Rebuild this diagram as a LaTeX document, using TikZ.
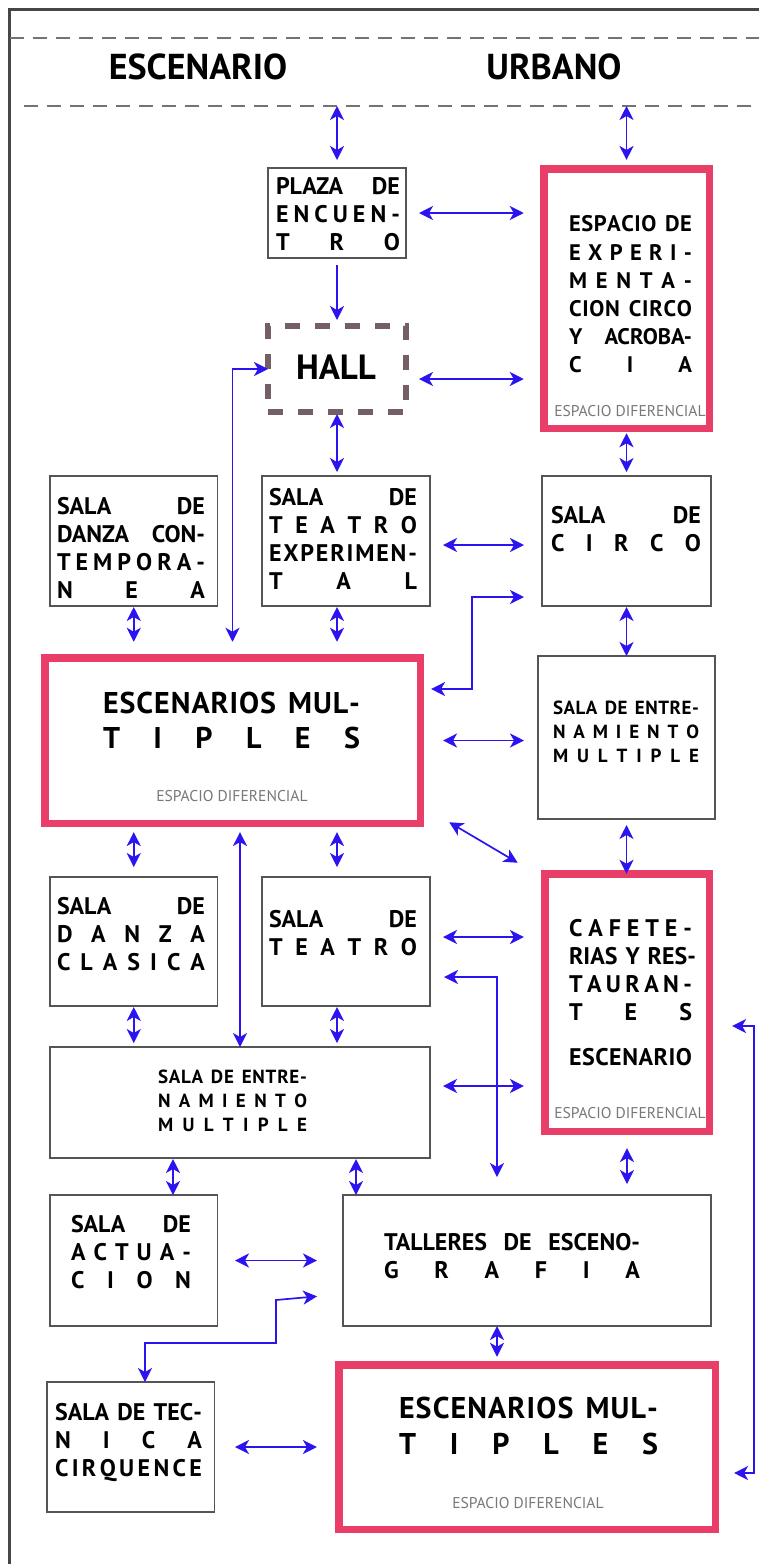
\documentclass[tikz,border=0pt]{standalone}
\usepackage{fontspec}
\setmainfont{PT Sans}
\usetikzlibrary{arrows.meta,calc}

\definecolor{diffred}{RGB}{232,62,104}
\definecolor{linkblue}{RGB}{43,20,240}
\definecolor{hallgray}{RGB}{115,95,100}
\definecolor{roomgray}{RGB}{85,85,85}
\definecolor{bandgray}{RGB}{115,115,115}
\definecolor{framegray}{RGB}{70,70,70}
\definecolor{diffgray}{RGB}{120,120,120}

\newcommand\roomfont{\bfseries\fontsize{12}{14}\selectfont}
\newcommand\trainfont{\bfseries\fontsize{9.5}{12}\selectfont}
\newcommand\bigfont{\bfseries\fontsize{15}{17.75}\selectfont}
\newcommand\difffont{\fontsize{7.8}{9}\selectfont}
\newcommand\headfont{\bfseries\fontsize{18}{20}\selectfont}

% justified lines: \jl stretches the spaces, \sj spreads every letter
\makeatletter
\newcommand\jl[1]{\makebox[\linewidth][s]{\spaceskip=.25em plus 1fil\relax #1}}
\def\sj@end{\sj@end}
\def\sj@loop#1{\ifx#1\sj@end\else\hfil#1\expandafter\sj@loop\fi}
\def\sj@go#1{#1\sj@loop}
\newcommand\sj[1]{\makebox[\linewidth][s]{\sj@go#1\sj@end}}
\makeatother

\begin{document}
\begin{tikzpicture}[x=0.5pt, y=-0.5pt,
    >={Stealth[length=7pt,width=7pt,inset=2pt]},
    room/.style={draw=roomgray, line width=0.75pt, fill=white},
    diff/.style={draw=diffred, line width=3.75pt, fill=white},
    hallbox/.style={draw=hallgray, line width=3.3pt, dash pattern=on 7.5pt off 7.5pt},
    link/.style={draw=linkblue, line width=0.85pt, <->},
    band/.style={draw=bandgray, line width=0.8pt, dash pattern=on 7pt off 4.5pt},
    roomtxt/.style={text width=#1, font=\roomfont},
    traintxt/.style={text width=#1, font=\trainfont},
    bigtxt/.style={text width=#1, font=\bigfont},
    difftxt/.style={font=\difffont, text=diffgray}]
  \tikzstyle{every node}+=[inner sep=0pt, outer sep=0pt]
  \useasboundingbox (0,0) rectangle (759,1564);
  \fill[white] (0,0) rectangle (759,1564);

  % frame and header band
  \draw[framegray, line width=1.5pt] (9.5,1564) -- (9.5,9.5) -- (759,9.5);
  \draw[band] (10,38) -- (759,38);
  \draw[band] (24,106) -- (759,106);
  \node[font=\headfont] (escenario) at (198,66.5) {ESCENARIO};
  \node[font=\headfont] (urbano) at (554,66.5) {URBANO};
  \coordinate (bandL) at (337,106);
  \coordinate (bandR) at (626.5,106);

  % boxes
  \node[room, minimum width=69pt, minimum height=45pt] (plaza) at (337,213) {};
  \node[diff, minimum width=82.75pt, minimum height=129.75pt] (espacio) at (626.5,298.5) {};
  \node[hallbox, minimum width=69pt, minimum height=43pt] (hall) at (337,369) {};
  \node[room, minimum width=83.75pt, minimum height=65pt] (dancont) at (133.75,541) {};
  \node[room, minimum width=84pt, minimum height=65pt] (teaexp) at (346,541) {};
  \node[room, minimum width=84.5pt, minimum height=65pt] (circo) at (626.5,541) {};
  \node[diff, minimum width=187.75pt, minimum height=82.75pt] (esc1) at (232.5,740.5) {};
  \node[room, minimum width=88.5pt, minimum height=81.5pt] (entR) at (626.5,737.5) {};
  \node[room, minimum width=83.75pt, minimum height=64.5pt] (danclas) at (133.75,941.5) {};
  \node[room, minimum width=84pt, minimum height=64.5pt] (teatro) at (346,941.5) {};
  \node[diff, minimum width=82.25pt, minimum height=128.75pt] (cafe) at (627,1002.5) {};
  \node[room, minimum width=190pt, minimum height=55.5pt] (entL) at (240,1102.5) {};
  \node[room, minimum width=83.75pt, minimum height=65.5pt] (actua) at (133.75,1260.5) {};
  \node[room, minimum width=184pt, minimum height=65.5pt] (talleres) at (527,1260.5) {};
  \node[room, minimum width=83.75pt, minimum height=65pt] (tecnica) at (130.75,1447) {};
  \node[diff, minimum width=188.25pt, minimum height=82.25pt] (esc2) at (527,1447) {};

  % texts
  \node[roomtxt=62pt] (plazatxt) at (338,214.5) {\jl{PLAZA DE}\\ \sj{ENCUEN-}\\ \sj{TRO}};
  \node[roomtxt=61.5pt, font=\bfseries\fontsize{11.25}{14.1}\selectfont] (espaciotxt) at (630.5,294.5)
    {\sj{ESPACIO{~}DE}\\ \sj{EXPERI-}\\ \sj{MENTA-}\\ \sj{CION{~}CIRCO}\\ \jl{Y ACROBA-}\\ \sj{CIA}};
  \node[difftxt] (espaciodiff) at (630,411) {ESPACIO DIFERENCIAL};
  \node[font=\bfseries\fontsize{17.5}{20}\selectfont] (halltxt) at (336,367.5) {HALL};
  \node[roomtxt=74pt] (dancontxt) at (131,547.5) {\jl{SALA DE}\\ \jl{DANZA CON-}\\ \sj{TEMPORA-}\\ \sj{NEA}};
  \node[roomtxt=74pt] (teaexptxt) at (343,538.5) {\jl{SALA DE}\\ \sj{TEATRO}\\ \sj{EXPERIMEN-}\\ \sj{TAL}};
  \node[roomtxt=75pt] (circotxt) at (626,529.5) {\jl{SALA DE}\\ \sj{CIRCO}};
  \node[bigtxt=128.5pt] (esc1txt) at (231.5,720.5) {\sj{ESCENARIOS{~}MUL-}\\ \sj{TIPLES}};
  \node[difftxt] (esc1diff) at (232,796) {ESPACIO DIFERENCIAL};
  \node[traintxt=73pt] (entRtxt) at (626,732) {\sj{SALA{~}DE{~}ENTRE-}\\ \sj{NAMIENTO}\\ \sj{MULTIPLE}};
  \node[roomtxt=74pt] (danclastxt) at (131,934.5) {\jl{SALA DE}\\ \sj{DANZA}\\ \sj{CLASICA}};
  \node[roomtxt=74pt] (teatrotxt) at (343,933) {\jl{SALA DE}\\ \sj{TEATRO}};
  \node[roomtxt=61.5pt] (cafetxt) at (630.5,992.5)
    {\sj{CAFETE-}\\ \sj{RIAS{~}Y{~}RES-}\\ \sj{TAURAN-}\\ \sj{TES}\\[8.5pt] {\fontsize{12}{14}\selectfont\sj{ESCENARIO}}};
  \node[difftxt] (cafediff) at (630,1113) {ESPACIO DIFERENCIAL};
  \node[traintxt=74.5pt] (entLtxt) at (232.5,1101) {\sj{SALA{~}DE{~}ENTRE-}\\ \sj{NAMIENTO}\\ \sj{MULTIPLE}};
  \node[roomtxt=60pt] (actuatxt) at (131,1252.5) {\jl{SALA DE}\\ \sj{ACTUA-}\\ \sj{CION}};
  \node[roomtxt=128pt] (tallerestxt) at (512,1256.5) {\jl{TALLERES DE ESCENO-}\\ \sj{GRAFIA}};
  \node[roomtxt=73.5pt] (tecnicatxt) at (128.5,1442.5) {\sj{SALA{~}DE{~}TEC-}\\ \sj{NICA}\\ \sj{CIRQUENCE}};
  \node[bigtxt=129.5pt] (esc2txt) at (528.5,1426) {\sj{ESCENARIOS{~}MUL-}\\ \sj{TIPLES}};
  \node[difftxt] (esc2diff) at (528,1503) {ESPACIO DIFERENCIAL};

  % connectors
  \draw[link, shorten >=4pt] (bandL) -- (bandL |- plaza.north);
  \draw[link, shorten >=4.4pt] (bandR) -- (bandR |- espacio.north);
  \draw[link, shorten <=6.5pt, shorten >=10pt] (plaza.east) -- (plaza.east -| espacio.west);
  \draw[link, ->, shorten <=3.5pt, shorten >=3pt] (plaza.south) -- (hall.north);
  \draw[link, shorten <=6.5pt, shorten >=10pt] ($(hall.east)+(0,10)$) -- ($(hall.east -| espacio.west)+(0,10)$);
  \draw[link, shorten <=1pt, shorten >=2pt] (hall.south) -- (hall.south |- teaexp.north);
  \draw[link, shorten <=2.5pt, shorten >=2pt] (espacio.south) -- (espacio.south |- circo.north);
  \draw[link, shorten >=8pt] (hall.west) -| (esc1.north);
  \draw[link, shorten <=0.5pt, shorten >=8pt] (dancont.south) -- (dancont.south |- esc1.north);
  \draw[link, shorten <=0.5pt, shorten >=8pt] (hall.south |- teaexp.south) -- (hall.south |- esc1.north);
  \draw[link, shorten <=6.5pt, shorten >=9pt] ($(teaexp.east)+(0,4)$) -- ($(teaexp.east -| circo.west)+(0,4)$);
  \draw[link, shorten <=5.4pt, shorten >=9pt] ($(esc1.east)+(0,-51.5)$) -- ++(51.75,0) |- ($(circo.west)+(0,56)$);
  \draw[link, shorten <=0.5pt] (circo.south) -- (entR.north);
  \draw[link, shorten <=11.4pt, shorten >=7pt] (esc1.east) -- (esc1.east -| entR.west);
  \draw[link] ($(esc1.south east)+(29,-1)$) -- ($(cafe.north west)+(-27,-11)$);
  \draw[link, shorten <=3pt] (entR.south) -- (entR.south |- cafe.north);
  \draw[link, shorten <=4.4pt, shorten >=5pt] (dancont.south |- esc1.south) -- (danclas.north);
  \draw[link, shorten <=4.4pt] (entL.north |- esc1.south) -- (entL.north);
  \draw[link, shorten <=4.4pt, shorten >=5pt] (hall.south |- esc1.south) -- (hall.south |- teatro.north);
  \draw[link, shorten <=6.5pt, shorten >=10.4pt] ($(teatro.east)+(0,-4.5)$) -- ($(teatro.east -| cafe.west)+(0,-4.5)$);
  \draw[link, shorten <=7pt, shorten >=9pt] ($(teatro.east)+(0,35.5)$) -| ($(talleres.north)+(-30,0)$);
  \draw[link, shorten <=0.5pt, shorten >=2pt] (danclas.south) -- (danclas.south |- entL.north);
  \draw[link, shorten <=0.5pt, shorten >=2pt] (hall.south |- teatro.south) -- (hall.south |- entL.north);
  \draw[link, shorten <=6.5pt, shorten >=10.4pt] ($(entL.east)+(0,-16.5)$) -- ($(entL.east -| cafe.west)+(0,-16.5)$);
  \draw[link, shorten <=8.4pt, shorten >=5.5pt] (cafe.south) -- (cafe.south |- talleres.north);
  \draw[link, shorten <=0.5pt] ($(entL.south west)+(123,0)$) -- ($(actua.north west)+(123,0)$);
  \draw[link, shorten <=0.5pt] ($(entL.south east)+(-74,0)$) -- ($(talleres.north west)+(13,0)$);
  \draw[link, shorten <=8.75pt, shorten >=13pt] (actua.east) -- (talleres.west);
  \draw[link, shorten >=13pt] ($(tecnica.north)+(14.25,0)$) -- ++(0,-39) -| (276,1300) -- ($(talleres.west)+(0,33.5)$);
  \draw[link, shorten <=10.25pt, shorten >=10.9pt] (tecnica.east) -- (tecnica.east -| esc2.west);
  \draw[link, shorten >=4pt] ($(talleres.south)+(-30,0)$) -- ($(esc2.north)+(-30,0)$);
  \draw[link, shorten <=11.4pt, shorten >=9.4pt] ($(cafe.east)+(0,23.5)$) -- ++(44.75,0) |- ($(esc2.east)+(0,26)$);
\end{tikzpicture}
\end{document}
